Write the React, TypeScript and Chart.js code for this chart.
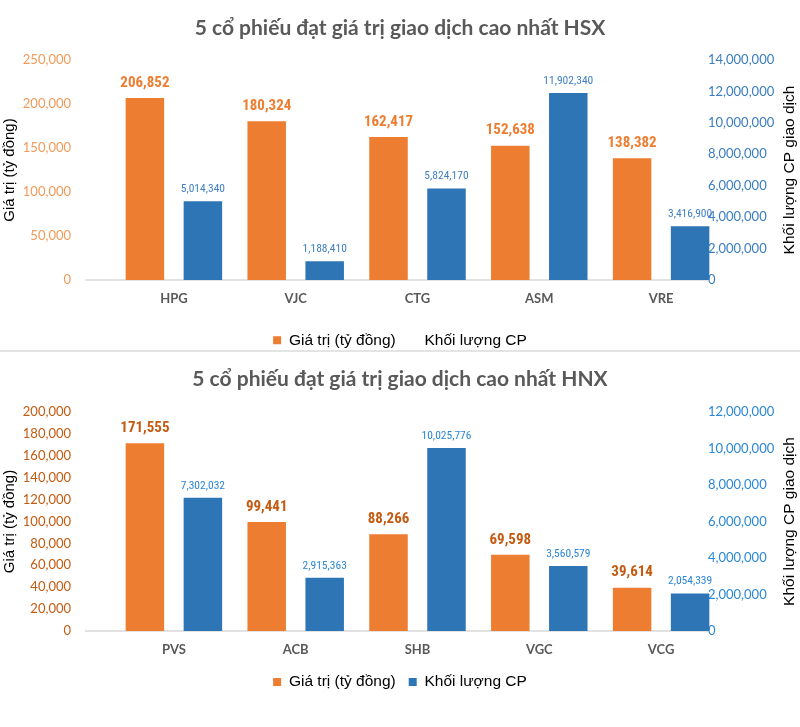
import React, { useEffect, useRef } from 'react';
import { Chart, registerables } from 'chart.js';

Chart.register(...registerables);

// ---------- data ----------
const HSX_TITLE = '5 cổ phiếu đạt giá trị giao dịch cao nhất HSX';
const HSX_CATEGORIES = ['HPG', 'VJC', 'CTG', 'ASM', 'VRE'];
const HSX_VALUES = [206852, 180324, 162417, 152638, 138382];
const HSX_VOLUMES = [5014340, 1188410, 5824170, 11902340, 3416900];
const HSX_LEFT_TICKS = [0, 50000, 100000, 150000, 200000, 250000];
const HSX_RIGHT_TICKS = [0, 2000000, 4000000, 6000000, 8000000, 10000000, 12000000, 14000000];

const HNX_TITLE = '5 cổ phiếu đạt giá trị giao dịch cao nhất HNX';
const HNX_CATEGORIES = ['PVS', 'ACB', 'SHB', 'VGC', 'VCG'];
const HNX_VALUES = [171555, 99441, 88266, 69598, 39614];
const HNX_VOLUMES = [7302032, 2915363, 10025776, 3560579, 2054339];
const HNX_LEFT_TICKS = [0, 20000, 40000, 60000, 80000, 100000, 120000, 140000, 160000, 180000, 200000];
const HNX_RIGHT_TICKS = [0, 2000000, 4000000, 6000000, 8000000, 10000000, 12000000];

const LEGEND_LABELS = ['Giá trị (tỷ đồng)', 'Khối lượng CP'];
const LEFT_AXIS_TITLE = 'Giá trị (tỷ đồng)';
const RIGHT_AXIS_TITLE = 'Khối lượng CP giao dịch';

// ---------- styles ----------
const ORANGE = '#ED7D31';
const BLUE = '#2E75B6';
const GRAY_TEXT = '#595959';
const TICK_FONT = 'Lato, "Open Sans", sans-serif';
const NARROW_FONT = '"Liberation Sans Narrow", "Arial Narrow", "Roboto Condensed", "Liberation Sans", sans-serif';
const PLAIN_FONT = '"Liberation Sans", Arial, sans-serif';
const TICK_SIZE = 13;

const fmt = (v: number) => Math.round(v).toLocaleString('en-US');

function measureWidest(labels: string[], font: string): number {
  const c = document.createElement('canvas');
  const ctx = c.getContext('2d');
  if (!ctx) return 66;
  ctx.font = font;
  return Math.max(...labels.map((l) => ctx.measureText(l).width));
}

type PanelSpec = {
  title: string;
  categories: string[];
  values: number[];
  volumes: number[];
  leftTicks: number[];
  rightTicks: number[];
  leftTickColor: string;
  rightTickColor: string;
  valueLabelColor: string;
  volumeLabelColor: string;
  hideSecondBox: boolean;
  canvasHeight: number;
  titlePad: { top: number; bottom: number };
  xAxisHeight: number;
  bottomPad: number;
};

const PANELS: PanelSpec[] = [
  {
    title: HSX_TITLE,
    categories: HSX_CATEGORIES,
    values: HSX_VALUES,
    volumes: HSX_VOLUMES,
    leftTicks: HSX_LEFT_TICKS,
    rightTicks: HSX_RIGHT_TICKS,
    leftTickColor: '#F29A5A',
    rightTickColor: '#3A7DC1',
    valueLabelColor: ORANGE,
    volumeLabelColor: '#3F7FC4',
    hideSecondBox: true,
    canvasHeight: 360,
    titlePad: { top: 14.4, bottom: 19.4 },
    xAxisHeight: 39.5,
    bottomPad: 2,
  },
  {
    title: HNX_TITLE,
    categories: HNX_CATEGORIES,
    values: HNX_VALUES,
    volumes: HNX_VOLUMES,
    leftTicks: HNX_LEFT_TICKS,
    rightTicks: HNX_RIGHT_TICKS,
    leftTickColor: '#C55A11',
    rightTickColor: '#2B88D6',
    valueLabelColor: '#C55A11',
    volumeLabelColor: '#2B86D4',
    hideSecondBox: false,
    canvasHeight: 375,
    titlePad: { top: 13.4, bottom: 20.4 },
    xAxisHeight: 30.25,
    bottomPad: 27.25,
  },
];

function makeConfig(p: PanelSpec): any {
  const valueLabelsPlugin = {
    id: 'valueLabels',
    afterDatasetsDraw(chart: any) {
      const ctx = chart.ctx;
      const styles = [
        { font: `bold 15px ${NARROW_FONT}`, color: p.valueLabelColor, offset: 15 },
        { font: `11.5px ${NARROW_FONT}`, color: p.volumeLabelColor, offset: 12 },
      ];
      chart.data.datasets.forEach((ds: any, di: number) => {
        const meta = chart.getDatasetMeta(di);
        const st = styles[di];
        ctx.save();
        ctx.font = st.font;
        ctx.fillStyle = st.color;
        ctx.textAlign = 'center';
        ctx.textBaseline = 'middle';
        meta.data.forEach((el: any, i: number) => {
          ctx.fillText(fmt(ds.data[i]), el.x, el.y - st.offset);
        });
        ctx.restore();
      });
    },
  };

  const baselinePlugin = {
    id: 'baseline',
    beforeDatasetsDraw(chart: any) {
      const { ctx, chartArea } = chart;
      const y = chart.scales.y.getPixelForValue(0);
      ctx.save();
      ctx.strokeStyle = '#D9D9D9';
      ctx.lineWidth = 1.5;
      ctx.beginPath();
      ctx.moveTo(chartArea.left - 28, y);
      ctx.lineTo(chartArea.right - 14, y);
      ctx.stroke();
      ctx.restore();
    },
  };

  const rightTitlePlugin = {
    id: 'rightTitle',
    afterDraw(chart: any) {
      const { ctx, chartArea } = chart;
      ctx.save();
      ctx.translate(chart.width - 10.5, (chartArea.top + chartArea.bottom) / 2);
      ctx.rotate(-Math.PI / 2);
      ctx.font = `15.5px ${PLAIN_FONT}`;
      ctx.fillStyle = '#000';
      ctx.textAlign = 'center';
      ctx.textBaseline = 'middle';
      ctx.fillText(RIGHT_AXIS_TITLE, 0, 0);
      ctx.restore();
    },
  };

  const leftMax = p.leftTicks[p.leftTicks.length - 1];
  const rightMax = p.rightTicks[p.rightTicks.length - 1];
  // right tick labels start 14px left of the plot's right edge (as in the reference)
  const rightWidest = measureWidest(p.rightTicks.map(fmt), `${TICK_SIZE}px ${TICK_FONT}`);
  const rightPad = rightWidest - 14;

  return {
    type: 'bar',
    data: {
      labels: p.categories,
      datasets: [
        {
          label: LEGEND_LABELS[0],
          data: p.values,
          backgroundColor: ORANGE,
          borderWidth: 0,
          yAxisID: 'y',
          categoryPercentage: 0.952,
          barPercentage: 0.664,
        },
        {
          label: LEGEND_LABELS[1],
          data: p.volumes,
          backgroundColor: BLUE,
          borderWidth: 0,
          yAxisID: 'y1',
          categoryPercentage: 0.952,
          barPercentage: 0.664,
        },
      ],
    },
    options: {
      responsive: false,
      animation: false,
      events: [],
      layout: { padding: { top: 0, left: 0, right: 0, bottom: p.bottomPad } },
      scales: {
        x: {
          grid: { display: false, drawTicks: false },
          border: { display: false },
          ticks: {
            color: GRAY_TEXT,
            font: { family: TICK_FONT, size: 13, weight: 'bold' },
            padding: 11.2,
          },
          afterFit: (s: any) => {
            s.height = p.xAxisHeight;
          },
        },
        y: {
          position: 'left',
          min: 0,
          max: leftMax,
          afterBuildTicks: (s: any) => {
            s.ticks = p.leftTicks.map((v) => ({ value: v }));
          },
          grid: { display: false, drawTicks: false },
          border: { display: false },
          ticks: {
            color: p.leftTickColor,
            font: { family: TICK_FONT, size: TICK_SIZE },
            padding: 42,
            callback: (v: number) => fmt(v),
          },
          title: {
            display: true,
            text: LEFT_AXIS_TITLE,
            color: '#000',
            font: { family: PLAIN_FONT, size: 15 },
            padding: { top: 1, bottom: 0 },
          },
          afterFit: (s: any) => {
            s.width = 113;
          },
        },
        y1: {
          position: 'right',
          min: 0,
          max: rightMax,
          afterBuildTicks: (s: any) => {
            s.ticks = p.rightTicks.map((v) => ({ value: v }));
          },
          grid: { display: false, drawTicks: false },
          border: { display: false },
          ticks: {
            color: p.rightTickColor,
            font: { family: TICK_FONT, size: TICK_SIZE },
            mirror: true,
            crossAlign: 'far',
            padding: rightPad,
            callback: (v: number) => fmt(v),
          },
          afterFit: (s: any) => {
            s.width = 78;
          },
        },
      },
      plugins: {
        title: {
          display: true,
          text: p.title,
          color: GRAY_TEXT,
          font: { family: TICK_FONT, size: 21, weight: 'bold' },
          padding: p.titlePad,
        },
        legend: {
          position: 'bottom',
          labels: {
            boxWidth: 8,
            boxHeight: 8,
            padding: 13,
            color: '#000',
            font: { family: PLAIN_FONT, size: 15.5 },
            generateLabels: (chart: any) => {
              const items = (Chart.defaults.plugins.legend.labels as any).generateLabels(chart);
              if (p.hideSecondBox && items[1]) {
                items[1].fillStyle = 'rgba(0,0,0,0)';
                items[1].strokeStyle = 'rgba(0,0,0,0)';
              }
              return items;
            },
          },
        },
        tooltip: { enabled: false },
      },
    },
    plugins: [baselinePlugin, valueLabelsPlugin, rightTitlePlugin],
  };
}

function PanelChart({ spec, top }: { spec: PanelSpec; top: number }) {
  const ref = useRef<HTMLCanvasElement | null>(null);
  useEffect(() => {
    if (!ref.current) return;
    const chart = new Chart(ref.current, makeConfig(spec));
    return () => chart.destroy();
  }, [spec]);
  return (
    <div style={{ position: 'absolute', left: 0, top, width: 800, height: spec.canvasHeight }}>
      <canvas ref={ref} width={800} height={spec.canvasHeight} style={{ display: 'block' }} />
    </div>
  );
}

export default function App() {
  return (
    <div
      style={{
        position: 'absolute',
        left: 0,
        top: 0,
        width: 800,
        height: 727,
        background: '#fff',
        overflow: 'hidden',
      }}
    >
      <PanelChart spec={PANELS[0]} top={0} />
      <div style={{ position: 'absolute', left: 0, top: 350, width: 800, height: 2, background: '#E4E4E4' }} />
      <PanelChart spec={PANELS[1]} top={352} />
    </div>
  );
}
